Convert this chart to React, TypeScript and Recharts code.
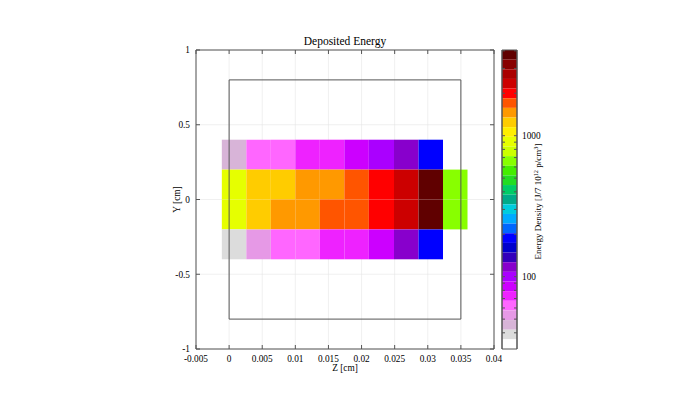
import React from 'react';
import { ComposedChart, XAxis, YAxis, CartesianGrid, ReferenceArea, Label, Line } from 'recharts';

const FONT = '"Liberation Serif", "DejaVu Serif", serif';

// bin edges of the scoring mesh (cm)
const zEdges = [-0.0011, 0.0026, 0.0063, 0.01, 0.0137, 0.0174, 0.0211, 0.0249, 0.0286, 0.0323, 0.036];
const yEdges = [0.4, 0.2, 0, -0.2, -0.4];

// energy density per bin, rows from top to bottom (null = empty bin)
const rowTop = [45, 62, 62, 73, 73, 86, 100, 117, 188, null];
const rowUpperMid = [910, 1245, 1245, 1456, 1456, 1706, 1995, 2330, 3750, 660];
const rowLowerMid = [910, 1245, 1456, 1456, 1706, 1706, 1995, 2330, 3750, 660];
const rowBottom = [39, 53, 62, 62, 73, 73, 86, 117, 188, null];
const rows = [rowTop, rowUpperMid, rowLowerMid, rowBottom];

// target outline (closed path)
const outlineZ = [0, 0, 0.035, 0.035, 0];
const outlineY = [-0.8, 0.8, 0.8, -0.8, -0.8];

const zTicks = [-0.005, 0, 0.005, 0.01, 0.015, 0.02, 0.025, 0.03, 0.035, 0.04];
const yTicks = [-1, -0.5, 0, 0.5, 1];

// colour bar (log scale), palette from top (max) to bottom (min)
const cbMin = 30.7;
const cbMax = 4055;
const cbLabelTicks = [100, 1000];
const cbTicks = [40, 50, 60, 70, 80, 90, 100, 200, 300, 400, 500, 600, 700, 800, 900, 1000, 2000, 3000, 4000];
const palette = [
  '#600000', '#880000', '#aa0000', '#cc0000', '#ff0000', '#ff5500', '#ff9900', '#ffcc00', '#ffee00', '#e6ff00',
  '#ccff00', '#88ff00', '#44ee00', '#22dd22', '#00cc66', '#00aa88', '#00ccdd', '#00aaff', '#0066ff', '#0000ff',
  '#0000cc', '#3300bb', '#8800cc', '#aa00ff', '#cc00ff', '#ee22ff', '#ff66ff', '#e699e6', '#d8b4d8', '#dcdcdc',
  '#ffffff',
];

const logHi = Math.log10(cbMax);
const logLo = Math.log10(cbMin);
const step = (logHi - logLo) / palette.length;

function colorFor(v: number) {
  let i = Math.floor((logHi - Math.log10(v)) / step);
  if (i < 0) i = 0;
  if (i > palette.length - 1) i = palette.length - 1;
  return palette[i];
}

const cells: { z1: number; z2: number; y1: number; y2: number; v: number }[] = [];
rows.forEach((row, r) => {
  row.forEach((v, c) => {
    if (v == null) return;
    cells.push({ z1: zEdges[c], z2: zEdges[c + 1], y1: yEdges[r + 1], y2: yEdges[r], v });
  });
});

const outline = outlineZ.map((z, i) => ({ z, y: outlineY[i] }));

const bands = palette.map((color, i) => ({
  color,
  x: 0.5,
  hi: Math.pow(10, logHi - i * step),
  lo: Math.pow(10, logHi - (i + 1) * step),
  mid: Math.pow(10, logHi - (i + 0.5) * step),
}));

const tickStyle = { fontSize: 9.3, fill: '#000' };
const AXIS = '#555';

function CbLabel(props: any) {
  const vb = props.viewBox || {};
  const cx = vb.x + vb.width / 2 + 1;
  const cy = vb.y + vb.height / 2 + 2;
  return (
    <text
      x={cx}
      y={cy}
      transform={`rotate(-90, ${cx}, ${cy})`}
      textAnchor="middle"
      dominantBaseline="central"
      fontSize={9}
      fill="#000"
    >
      Energy Density [J/7 10
      <tspan dy={-3} fontSize={6.3}>12</tspan>
      <tspan dy={3}> p/cm</tspan>
      <tspan dy={-3} fontSize={6.3}>3</tspan>
      <tspan dy={3}>]</tspan>
    </text>
  );
}

export default function App() {
  return (
    <div style={{ position: 'absolute', left: 0, top: 0, width: 690, height: 399, background: '#fff', fontFamily: FONT }}>
      <div style={{ position: 'absolute', left: 0, top: 0 }}>
        <ComposedChart width={690} height={399} data={outline} margin={{ top: 49, right: 195, bottom: 20, left: 156 }}>
          <CartesianGrid stroke="#e4e4e4" strokeOpacity={0.55} />
          <XAxis
            dataKey="z"
            type="number"
            domain={[-0.005, 0.04]}
            allowDataOverflow
            ticks={zTicks}
            interval={0}
            height={30}
            stroke={AXIS}
            tickSize={-4}
            tickMargin={10}
            tick={tickStyle}
          >
            <Label value="Z [cm]" position="insideBottom" offset={8} fontSize={9.3} fill="#000" />
          </XAxis>
          <XAxis
            xAxisId="top"
            dataKey="z"
            orientation="top"
            type="number"
            domain={[-0.005, 0.04]}
            allowDataOverflow
            ticks={zTicks}
            interval={0}
            height={1}
            stroke={AXIS}
            tickSize={-4}
            tickFormatter={() => ''}
          >
            <Label value="Deposited Energy" position="top" offset={4} fontSize={11.5} fill="#000" />
          </XAxis>
          <YAxis
            type="number"
            domain={[-1, 1]}
            allowDataOverflow
            ticks={yTicks}
            interval={0}
            width={40}
            stroke={AXIS}
            tickSize={-4}
            tickMargin={10}
            tick={tickStyle}
          >
            <Label value="Y [cm]" angle={-90} position="center" dx={1} fontSize={9.3} fill="#000" />
          </YAxis>
          <YAxis
            yAxisId="right"
            orientation="right"
            type="number"
            domain={[-1, 1]}
            allowDataOverflow
            ticks={yTicks}
            interval={0}
            width={1}
            stroke={AXIS}
            tickSize={-4}
            tickFormatter={() => ''}
          />
          {cells.map((c, i) => (
            <ReferenceArea
              key={i}
              x1={c.z1}
              x2={c.z2}
              y1={c.y1}
              y2={c.y2}
              fill={colorFor(c.v)}
              fillOpacity={1}
              stroke="none"
            />
          ))}
          <Line
            dataKey="y"
            type="linear"
            stroke="#555"
            strokeWidth={1}
            dot={false}
            isAnimationActive={false}
          />
        </ComposedChart>
      </div>
      <div style={{ position: 'absolute', left: 0, top: 0 }}>
        <ComposedChart width={690} height={399} data={bands} margin={{ top: 50, right: 133, bottom: 50, left: 501 }}>
          <XAxis dataKey="x" type="number" domain={[0, 1]} hide />
          <YAxis
            yAxisId="cb"
            orientation="right"
            type="number"
            scale="log"
            domain={[cbMin, cbMax]}
            allowDataOverflow
            ticks={cbTicks}
            interval={0}
            width={40}
            stroke={AXIS}
            tickSize={-3}
            tickMargin={8}
            tick={tickStyle}
            tickFormatter={(v: number) => (cbLabelTicks.includes(v) ? String(v) : '')}
          >
            <Label content={CbLabel} />
          </YAxis>
          <YAxis
            yAxisId="cbLeft"
            orientation="left"
            type="number"
            scale="log"
            domain={[cbMin, cbMax]}
            allowDataOverflow
            ticks={cbTicks}
            interval={0}
            width={1}
            stroke={AXIS}
            tickSize={-3}
            tickFormatter={() => ''}
          />
          {bands.map((b, i) => (
            <ReferenceArea
              key={i}
              yAxisId="cb"
              x1={0}
              x2={1}
              y1={b.lo}
              y2={b.hi}
              fill={b.color}
              fillOpacity={1}
              stroke="none"
            />
          ))}
          <ReferenceArea
            yAxisId="cb"
            x1={0}
            x2={1}
            y1={cbMin}
            y2={cbMax}
            fill="none"
            fillOpacity={0}
            stroke="#555"
          />
          <Line
            yAxisId="cb"
            dataKey="mid"
            stroke="none"
            dot={false}
            activeDot={false}
            isAnimationActive={false}
          />
        </ComposedChart>
      </div>
    </div>
  );
}
